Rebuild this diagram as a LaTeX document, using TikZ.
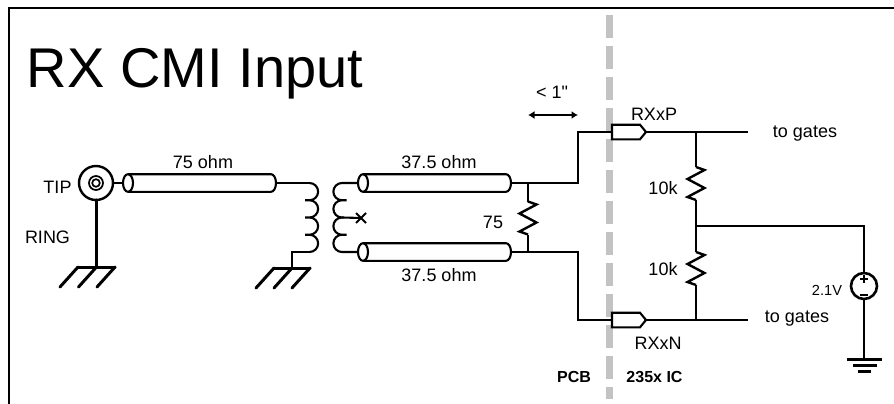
\documentclass[tikz,border=0pt]{standalone}
\usepackage{fontspec}
\setmainfont{Liberation Sans}
\newfontfamily\plainquote{Liberation Sans}
\usetikzlibrary{arrows.meta}
\tikzset{
  wire/.style={draw=black,line width=2.1pt,line cap=butt,line join=miter},
  heavy/.style={draw=black,line width=3pt,line cap=round,line join=round},
  lbl/.style={anchor=base,inner sep=0pt,outer sep=0pt,text=black,font=\fontsize{18}{20}\selectfont},
  lblb/.style={lbl,font=\fontsize{16}{18}\selectfont\bfseries},
  buffer/.style={wire,fill=white}
}
% coax: x1, x2, y
\newcommand{\coaxcable}[3]{%
  \draw[wire,fill=white] (#1,#3-8.8) -- (#2-5,#3-8.8) arc[start angle=90,end angle=-90,x radius=5pt,y radius=8.8pt] -- (#1,#3+8.8);
  \draw[wire] (#1,#3) circle[x radius=5pt,y radius=8.8pt];
}
% resistor: x, top y
\newcommand{\zigzag}[2]{%
  \draw[wire,line width=2.4pt] (#1,#2) -- (#1+8.5,#2+3) -- (#1-8.5,#2+12) -- (#1+8.5,#2+21) -- (#1-8.5,#2+30) -- (#1,#2+33);
}
% ground with hatch: x left, x mid, x right, y
\newcommand{\hatchgnd}[4]{%
  \draw[heavy] (#1,#4) -- (#3,#4);
  \draw[heavy] (#1,#4) -- (#1-18,#4+20);
  \draw[heavy] (#2,#4) -- (#2-18,#4+20);
  \draw[heavy] (#3,#4) -- (#3-18,#4+20);
}
\begin{document}
\begin{tikzpicture}[x=1pt,y=-1pt]
\useasboundingbox (0,0) rectangle (894,404);
% frame
\coordinate (frameA) at (9,404);
\coordinate (frameB) at (9,8);
\coordinate (frameC) at (894,8);
\draw[line width=2.2pt,black,line join=miter] (frameA) -- (frameB) -- (frameC);
% PCB / IC boundary
\coordinate (bndA) at (609.5,15);
\coordinate (bndB) at (609.5,399);
\draw[line width=7.5pt,draw={rgb,255:red,195;green,195;blue,195},dash pattern=on 23pt off 8pt] (bndA) -- (bndB);
% title
\node[lbl,anchor=base west,font=\fontsize{56}{60}\selectfont] (title) at (27,87) {RX CMI Input};
% jack
\coordinate (jack) at (96,183);
\draw[line width=2.4pt] (jack) circle[radius=17pt];
\draw[line width=1.7pt] (jack) circle[radius=7pt];
\draw[line width=1.7pt] (jack) circle[radius=3.8pt];
\coordinate (jackB) at (96,200);
\coordinate (gndA) at (96,267);
\draw[heavy] (jackB) -- (gndA);
\hatchgnd{78}{96.5}{115}{267}
\node[lbl] (tip) at (57.5,193) {TIP};
\node[lbl] (ring) at (47.5,243) {RING};
\coordinate (jackR) at (113,183);
\coordinate (coaxAin) at (123,183);
\draw[wire] (jackR) -- (coaxAin);
% coax 75 ohm
\coaxcable{128}{276}{183}
\node[lbl] (ohmA) at (203,168) {75 ohm};
% primary
\coordinate (coaxAout) at (276,183);
\coordinate (priTop) at (309.5,183);
\draw[wire] (coaxAout) -- (priTop);
\draw[wire] (priTop) arc[start angle=90,end angle=-90,radius=8.625pt]
  -- ++(-4.5,0) -- ++(4.5,0) arc[start angle=90,end angle=-90,radius=8.625pt]
  -- ++(-4.5,0) -- ++(4.5,0) arc[start angle=90,end angle=-90,radius=8.625pt]
  -- ++(-4.5,0) -- ++(4.5,0) arc[start angle=90,end angle=-90,radius=8.625pt] coordinate (priBot);
\coordinate (gndB) at (292,268);
\draw[wire,line width=2.8pt] (priBot) -| (gndB);
\hatchgnd{274}{292}{310}{268}
% secondary
\coordinate (secTop) at (342,183);
\coordinate (coaxBin) at (358,183);
\coordinate (coaxCin) at (358,252);
\coordinate (tapEnd) at (361,218);
\draw[wire] (coaxBin) -- (secTop) arc[start angle=90,end angle=270,radius=8.625pt]
  -- ++(4.5,0) -- ++(-4.5,0) arc[start angle=90,end angle=270,radius=8.625pt] coordinate (secMid)
  -- ++(0,0) arc[start angle=90,end angle=270,radius=8.625pt]
  -- ++(4.5,0) -- ++(-4.5,0) arc[start angle=90,end angle=270,radius=8.625pt] coordinate (secBot) -- (coaxCin);
\draw[wire] (secMid) -- (tapEnd);
\draw[wire] (356,213) -- (366,223);
\draw[wire] (356,223) -- (366,213);
% coax 37.5 ohm
\coaxcable{363}{511}{183}
\coaxcable{363}{511}{252}
\node[lbl] (ohmB) at (439,168) {37.5 ohm};
\node[lbl] (ohmC) at (439,281) {37.5 ohm};
% termination
\coordinate (coaxBout) at (511,183);
\coordinate (coaxCout) at (511,252);
\coordinate (termT) at (528,183);
\coordinate (termB) at (528,252);
\coordinate (termRt) at (528,201.5);
\coordinate (termRb) at (528,234.5);
\draw[wire] (termT) -- (termRt);
\draw[wire] (termRb) -- (termB);
\zigzag{528}{201.5}
\node[lbl] (rTerm) at (493,228) {75};
% routing to IC
\coordinate (rxp) at (612,132);
\coordinate (rxn) at (612,320);
\draw[wire] (coaxBout) -| (578,132) -- (rxp);
\draw[wire] (coaxCout) -| (578,320) -- (rxn);
% buffers
\draw[buffer] (rxp) -- (612,124.7) -- (640,124.7) -- (646,132) -- (640,139.3) -- (612,139.3) -- cycle;
\draw[buffer] (rxn) -- (612,312.7) -- (640,312.7) -- (646,320) -- (640,327.3) -- (612,327.3) -- cycle;
\node[lbl] (rxpL) at (654,120) {RXxP};
\node[lbl] (rxnL) at (658,349) {RXxN};
% output wires
\coordinate (outP) at (646,132);
\coordinate (outN) at (646,320);
\coordinate (endP) at (748,132);
\coordinate (endN) at (748,320);
\draw[wire] (outP) -- (endP);
\draw[wire] (outN) -- (endN);
\node[lbl] (gatesA) at (805,137) {to gates};
\node[lbl] (gatesB) at (797,322) {to gates};
% divider
\coordinate (divT) at (696,132);
\coordinate (divM) at (696,226);
\coordinate (divB) at (696,320);
\draw[wire,line width=2.4pt] (divT) -- (696,167);
\zigzag{696}{167}
\draw[wire,line width=2.4pt] (696,200) -- (696,252);
\zigzag{696}{252}
\draw[wire,line width=2.4pt] (696,285) -- (divB);
\node[lbl] (rA) at (663,194) {10k};
\node[lbl] (rB) at (663,275) {10k};
% source
\coordinate (srcTop) at (864,226);
\coordinate (src) at (864,286);
\coordinate (gndC) at (864,359);
\draw[wire] (divM) -- (srcTop) -- (gndC);
\draw[line width=2.6pt,fill=white] (src) circle[radius=13pt];
\draw[line width=1.8pt] (860,279) -- (868,279) (864,275) -- (864,283);
\draw[line width=2pt] (860,295) -- (868,295);
\node[lbl,font=\fontsize{14.6}{16}\selectfont] (vL) at (827,295) {2.1V};
\draw[wire] (847,359.5) -- (882,359.5);
\draw[wire] (853,365.5) -- (877,365.5);
\draw[wire] (858,371.5) -- (871,371.5);
% arrow
\coordinate (dimA) at (528,115);
\coordinate (dimB) at (578,115);
\draw[line width=1.9pt,{Latex[length=6.5pt,width=8pt]}-{Latex[length=6.5pt,width=8pt]}] (dimA) -- (dimB);
\node[lbl,font=\fontsize{18}{20}\selectfont\plainquote] (dimL) at (552,99) {< 1"};
% regions
\node[lblb] (pcb) at (574,382) {PCB};
\node[lblb] (ic) at (654.5,382) {235x IC};
\end{tikzpicture}
\end{document}
